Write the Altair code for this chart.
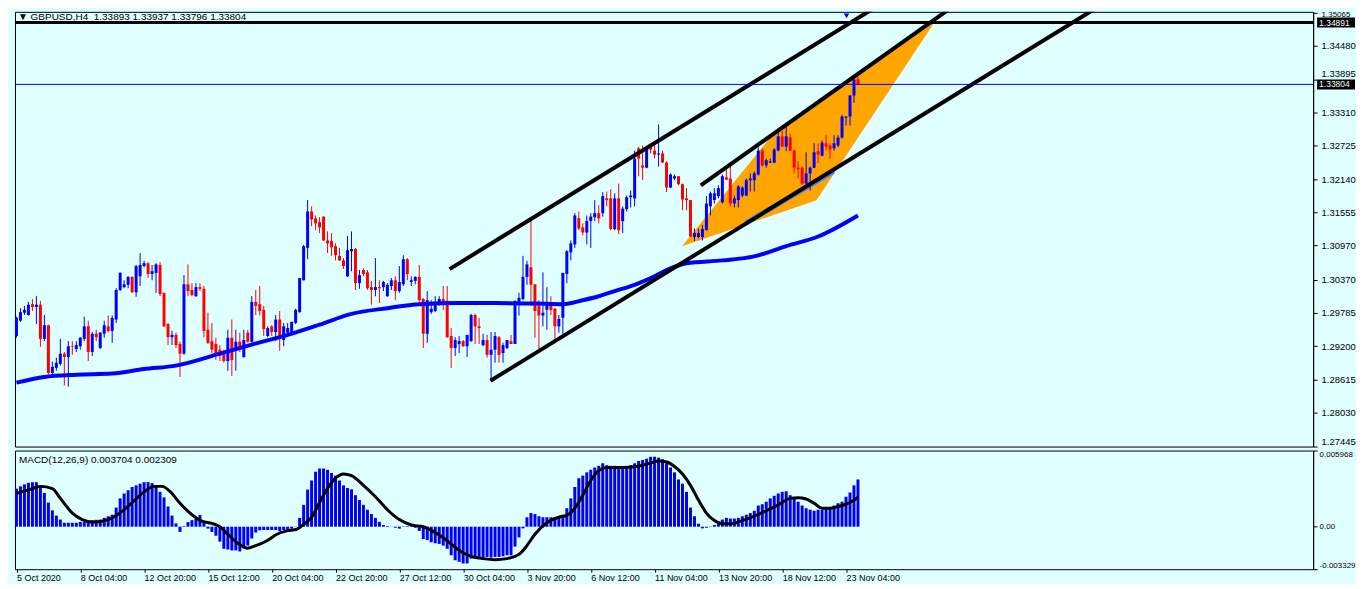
import json
import altair as alt
import pandas as pd

# ---------------- data ----------------
opens = [1.2938,1.2965,1.2979,1.2975,1.2994,1.2989,1.2993,1.2933,1.2957,1.2873,1.2882,1.2889,1.2907,1.2901,1.2920,1.2915,1.2920,1.2933,1.2955,1.2910,
         1.2942,1.2917,1.2942,1.2955,1.2947,1.2967,1.3019,1.3024,1.3028,1.3042,1.3015,1.3043,1.3061,1.3066,1.3047,1.3049,1.3063,1.3014,1.2959,1.2936,
         1.2940,1.2924,1.2907,1.3029,1.3019,1.3008,1.3024,1.3021,1.2949,1.2929,1.2924,1.2914,1.2908,1.2894,1.2935,1.2912,1.2928,1.2901,1.2944,1.2928,
         1.2998,1.2994,1.2984,1.2938,1.2955,1.2945,1.2967,1.2931,1.2944,1.2944,1.2961,1.2980,1.3036,1.3093,1.3157,1.3145,1.3138,1.3148,1.3106,1.3105,
         1.3096,1.3079,1.3071,1.3043,1.3087,1.3091,1.3031,1.3054,1.3050,1.3024,1.3019,1.3024,1.3024,1.3008,1.3026,1.3036,1.3017,1.3029,1.3073,1.3033,
         1.3035,1.3042,1.3003,1.2942,1.2980,1.2982,1.2993,1.3003,1.3000,1.2938,1.2917,1.2924,1.2929,1.2920,1.2929,1.2975,1.2955,1.2922,1.2931,1.2905,
         1.2914,1.2936,1.2908,1.2917,1.2929,1.2924,1.2996,1.3003,1.3042,1.3059,1.3029,1.2991,1.2974,1.2984,1.2996,1.2986,1.2955,1.2970,1.3047,1.3085,
         1.3099,1.3145,1.3129,1.3120,1.3140,1.3147,1.3154,1.3154,1.3180,1.3180,1.3126,1.3180,1.3140,1.3161,1.3182,1.3180,1.3268,1.3238,1.3234,1.3271,
         1.3264,1.3257,1.3259,1.3243,1.3199,1.3215,1.3219,1.3205,1.3180,1.3177,1.3112,1.3112,1.3112,1.3124,1.3166,1.3177,1.3184,1.3173,1.3217,1.3215,
         1.3171,1.3177,1.3185,1.3185,1.3212,1.3212,1.3222,1.3264,1.3238,1.3243,1.3243,1.3264,1.3289,1.3271,1.3287,1.3264,1.3234,1.3234,1.3206,1.3224,
         1.3234,1.3263,1.3255,1.3277,1.3273,1.3268,1.3273,1.3287,1.3322,1.3324,1.3361,1.33893]
highs = [1.2972,1.2987,1.2991,1.2998,1.3003,1.3008,1.3000,1.2975,1.2958,1.2893,1.2900,1.2933,1.2910,1.2929,1.2929,1.2929,1.2936,1.2972,1.2965,1.2945,
         1.2949,1.2945,1.2965,1.2974,1.2974,1.3022,1.3050,1.3036,1.3043,1.3043,1.3063,1.3084,1.3070,1.3068,1.3063,1.3066,1.3068,1.3014,1.2961,1.2947,
         1.2944,1.2928,1.3045,1.3064,1.3031,1.3031,1.3031,1.3026,1.2979,1.2961,1.2935,1.2922,1.2914,1.2949,1.2967,1.2949,1.2944,1.2949,1.2949,1.3008,
         1.3019,1.3026,1.2991,1.2955,1.2957,1.2975,1.2982,1.2961,1.2961,1.2963,1.2986,1.3040,1.3098,1.3177,1.3166,1.3150,1.3147,1.3148,1.3122,1.3119,
         1.3101,1.3093,1.3075,1.3114,1.3122,1.3093,1.3054,1.3057,1.3054,1.3035,1.3075,1.3036,1.3035,1.3031,1.3040,1.3043,1.3061,1.3080,1.3075,1.3043,
         1.3043,1.3063,1.3005,1.3017,1.3001,1.3008,1.3008,1.3026,1.3026,1.2952,1.2936,1.2938,1.2931,1.2940,1.2977,1.2977,1.2970,1.2942,1.2940,1.2945,
         1.2945,1.2938,1.2926,1.2931,1.2940,1.3000,1.3014,1.3079,1.3070,1.3141,1.3029,1.3001,1.3050,1.3024,1.3008,1.2987,1.2975,1.3049,1.3089,1.3106,
         1.3154,1.3157,1.3136,1.3150,1.3154,1.3177,1.3168,1.3191,1.3192,1.3196,1.3189,1.3206,1.3166,1.3185,1.3194,1.3264,1.3271,1.3273,1.3271,1.3277,
         1.3280,1.3310,1.3264,1.3245,1.3224,1.3222,1.3219,1.3206,1.3198,1.3177,1.3127,1.3127,1.3133,1.3184,1.3192,1.3198,1.3203,1.3222,1.3231,1.3243,
         1.3185,1.3203,1.3201,1.3215,1.3224,1.3227,1.3270,1.3268,1.3250,1.3250,1.3268,1.3298,1.3299,1.3310,1.3294,1.3266,1.3245,1.3236,1.3261,1.3236,
         1.3277,1.3277,1.3282,1.3291,1.3277,1.3291,1.3291,1.3327,1.3324,1.3361,1.3394,1.33937]
lows = [1.2935,1.2963,1.2975,1.2974,1.2982,1.2959,1.2919,1.2929,1.2870,1.2870,1.2877,1.2886,1.2851,1.2849,1.2905,1.2910,1.2914,1.2929,1.2894,1.2903,
        1.2929,1.2915,1.2935,1.2944,1.2926,1.2961,1.3017,1.3022,1.3022,1.3014,1.3007,1.3026,1.3059,1.3040,1.3036,1.3014,1.3008,1.2954,1.2922,1.2922,
        1.2917,1.2866,1.2905,1.3008,1.3008,1.3007,1.3017,1.2936,1.2924,1.2908,1.2896,1.2894,1.2891,1.2877,1.2868,1.2877,1.2910,1.2900,1.2926,1.2926,
        1.2975,1.2974,1.2938,1.2936,1.2938,1.2929,1.2912,1.2920,1.2938,1.2942,1.2959,1.2979,1.3036,1.3073,1.3131,1.3124,1.3119,1.3105,1.3084,1.3079,
        1.3071,1.3070,1.3056,1.3042,1.3052,1.3019,1.3021,1.3043,1.3019,1.2993,1.3008,1.2996,1.3017,1.3007,1.3019,1.3001,1.3014,1.3026,1.3036,1.3026,
        1.3029,1.2996,1.2917,1.2926,1.2977,1.2980,1.2991,1.2984,1.2935,1.2882,1.2903,1.2908,1.2919,1.2901,1.2928,1.2924,1.2924,1.2920,1.2900,1.2859,
        1.2891,1.2891,1.2891,1.2915,1.2924,1.2924,1.2974,1.3001,1.3028,1.2991,1.2935,1.2915,1.2955,1.2949,1.2975,1.2933,1.2944,1.2940,1.3031,1.3071,
        1.3093,1.3124,1.3115,1.3099,1.3093,1.3140,1.3136,1.3148,1.3166,1.3124,1.3124,1.3117,1.3119,1.3157,1.3164,1.3166,1.3219,1.3212,1.3233,1.3259,
        1.3250,1.3236,1.3242,1.3191,1.3198,1.3212,1.3203,1.3159,1.3159,1.3112,1.3105,1.3110,1.3106,1.3124,1.3150,1.3171,1.3180,1.3171,1.3212,1.3166,
        1.3164,1.3164,1.3182,1.3184,1.3192,1.3192,1.3220,1.3236,1.3234,1.3242,1.3242,1.3263,1.3271,1.3263,1.3263,1.3224,1.3215,1.3203,1.3203,1.3194,
        1.3233,1.3242,1.3254,1.3264,1.3250,1.3264,1.3270,1.3285,1.3308,1.3308,1.3348,1.33796]
closes = [1.2970,1.2980,1.2984,1.2993,1.2989,1.2993,1.2933,1.2957,1.2873,1.2884,1.2891,1.2907,1.2901,1.2920,1.2919,1.2922,1.2935,1.2955,1.2910,1.2942,
          1.2936,1.2944,1.2957,1.2947,1.2970,1.3019,1.3049,1.3029,1.3042,1.3015,1.3061,1.3063,1.3066,1.3047,1.3052,1.3064,1.3012,1.2955,1.2936,1.2940,
          1.2922,1.2907,1.3029,1.3017,1.3010,1.3024,1.3021,1.2947,1.2926,1.2914,1.2908,1.2903,1.2894,1.2935,1.2896,1.2928,1.2914,1.2931,1.2928,1.2998,
          1.2991,1.2982,1.2950,1.2952,1.2945,1.2967,1.2935,1.2955,1.2952,1.2963,1.2984,1.3040,1.3096,1.3157,1.3143,1.3136,1.3129,1.3106,1.3101,1.3094,
          1.3080,1.3071,1.3061,1.3089,1.3091,1.3031,1.3045,1.3047,1.3022,1.3019,1.3024,1.3022,1.3033,1.3028,1.3036,1.3017,1.3033,1.3073,1.3047,1.3036,
          1.3042,1.3001,1.2942,1.3001,1.2986,1.2996,1.3003,1.2996,1.2936,1.2917,1.2931,1.2929,1.2920,1.2940,1.2975,1.2955,1.2952,1.2931,1.2905,1.2914,
          1.2938,1.2905,1.2922,1.2931,1.2924,1.3000,1.3005,1.3042,1.3064,1.3028,1.2982,1.2974,1.2979,1.2998,1.2984,1.2955,1.2968,1.3049,1.3087,1.3101,
          1.3150,1.3127,1.3120,1.3140,1.3148,1.3154,1.3145,1.3184,1.3177,1.3126,1.3180,1.3124,1.3162,1.3182,1.3185,1.3250,1.3250,1.3234,1.3268,1.3266,
          1.3257,1.3259,1.3243,1.3199,1.3222,1.3219,1.3205,1.3178,1.3177,1.3113,1.3119,1.3119,1.3126,1.3171,1.3189,1.3189,1.3198,1.3219,1.3213,1.3171,
          1.3180,1.3201,1.3199,1.3212,1.3215,1.3224,1.3264,1.3238,1.3247,1.3245,1.3266,1.3289,1.3271,1.3289,1.3264,1.3234,1.3231,1.3206,1.3224,1.3234,
          1.3261,1.3257,1.3278,1.3271,1.3266,1.3277,1.3287,1.3324,1.3324,1.3361,1.3389,1.33804]

macd_hist = [0.00298,0.00316,0.00332,0.00344,0.00349,0.00349,0.00311,0.00265,0.00189,0.00128,0.00087,0.00056,0.00031,0.00031,0.00031,0.00031,0.00038,0.00038,0.00046,0.00051,
             0.00054,0.00056,0.00069,0.00082,0.00094,0.00150,0.00222,0.00260,0.00286,0.00311,0.00324,0.00337,0.00349,0.00349,0.00342,0.00324,0.00273,0.00230,0.00158,0.00087,
             0.00026,-0.00041,0.00005,0.00036,0.00051,0.00061,0.00092,0.00031,-0.00015,-0.00041,-0.00071,-0.00117,-0.00173,-0.00179,-0.00186,-0.00186,-0.00194,-0.00161,-0.00148,-0.00092,
             -0.00046,-0.00028,-0.00026,-0.00026,-0.00026,-0.00026,-0.00036,-0.00026,-0.00026,-0.00015,0.00002,0.00069,0.00171,0.00291,0.00362,0.00431,0.00456,0.00456,0.00446,0.00421,
             0.00400,0.00362,0.00324,0.00303,0.00293,0.00247,0.00209,0.00171,0.00133,0.00099,0.00069,0.00038,0.00013,0.00005,0.00001,-0.00008,-0.00015,0.00003,0.00005,0.00003,
             -0.00008,-0.00033,-0.00097,-0.00105,-0.00122,-0.00130,-0.00135,-0.00148,-0.00173,-0.00224,-0.00263,-0.00275,-0.00288,-0.00288,-0.00250,-0.00250,-0.00237,-0.00242,-0.00237,-0.00242,
             -0.00237,-0.00237,-0.00232,-0.00224,-0.00224,-0.00156,-0.00084,-0.00013,0.00074,0.00107,0.00099,0.00082,0.00074,0.00074,0.00074,0.00074,0.00082,0.00094,0.00145,0.00222,
             0.00311,0.00380,0.00400,0.00426,0.00446,0.00464,0.00477,0.00497,0.00482,0.00477,0.00477,0.00472,0.00472,0.00472,0.00482,0.00497,0.00515,0.00523,0.00533,0.00548,
             0.00548,0.00541,0.00528,0.00497,0.00464,0.00426,0.00370,0.00337,0.00273,0.00150,0.00082,0.00023,-0.00013,-0.00008,-0.00003,0.00013,0.00031,0.00056,0.00069,0.00064,
             0.00064,0.00069,0.00082,0.00094,0.00107,0.00125,0.00166,0.00176,0.00196,0.00222,0.00242,0.00260,0.00273,0.00278,0.00247,0.00222,0.00196,0.00166,0.00145,0.00133,
             0.00125,0.00133,0.00133,0.00140,0.00145,0.00166,0.00184,0.00196,0.00235,0.00268,0.00324,0.003704]

signal_bar = [0,4,6,9,11,14,16.5,19,21.5,24,26.5,29,32,34.5,36.5,38.6,41,44,46.5,49,50.7,53,55.7,57.8,60,62.8,65.3,67.8,70.3,72,
              74,76,78,80,82,84,87,90,93,96,99,102,105,108,111,114,117,120,123,126,128,130,133,136,138,140,142,144,146,148,
              152,155,158,161,163,165,167,169,171,173,175,177,179,182,185,188,191,194,196,198,200,202,204,206,208,210,211]
signal_val = [0.00260,0.00298,0.00316,0.00298,0.00222,0.00107,0.00056,0.00036,0.00043,0.00069,0.00120,0.00189,0.00273,0.00316,0.00316,0.00273,0.00184,0.00094,0.00043,0.00026,
              0.00005,-0.00059,-0.00135,-0.00168,-0.00148,-0.00110,-0.00059,-0.00033,-0.00020,0.00018,
              0.00075,0.00190,0.00300,0.00380,0.00413,0.00400,0.00324,0.00235,0.00133,0.00056,0.00013,0.00000,-0.00046,-0.00110,-0.00186,-0.00232,-0.00250,-0.00258,-0.00250,-0.00217,
              -0.00148,-0.00059,0.00031,0.00074,0.00089,0.00145,0.00247,0.00362,0.00439,0.00464,
              0.00464,0.00469,0.00490,0.00515,0.00507,0.00472,0.00413,0.00324,0.00209,0.00107,0.00048,0.00023,0.00023,0.00048,0.00082,0.00125,0.00171,0.00222,0.00227,0.00217,
              0.00184,0.00145,0.00145,0.00158,0.00176,0.00209,0.002309]

ma_bar = [0,7,15,24,32,40,51,59,68,76,84,93,101,111,120,130,137,142,146,150,155,160,164,168,177,185,193,201,211]
ma_val = [1.2856,1.2866,1.2870,1.2872,1.2880,1.2886,1.2907,1.2923,1.2940,1.2958,1.2977,1.2987,1.2994,1.2996,1.2996,1.2995,1.2994,1.3001,1.3008,1.3017,
          1.3028,1.3043,1.3057,1.3066,1.3071,1.3078,1.3096,1.3113,1.3150]

# drawn objects (bar index, price)
trend_id = ["A", "A", "B", "B", "C", "C"]
trend_bar = [108.6, 215.0, 118.85, 271.6, 171.6, 233.6]
trend_price = [1.30557, 1.35143, 1.28593, 1.35184, 1.32029, 1.35114]
seg_bar = [182.85, 204.85]
seg_price = [1.31363, 1.32275]
tri_bar = [166.85, 189.85, 200.6, 230.6]
tri_top = [1.30960, 1.32941, 1.33469, 1.34939]
tri_bottom = [1.30960, 1.31509, 1.31766, 1.34939]
hline_price = [1.34891]
bid_price = [1.33804]
box_prices = [1.34891, 1.33804]

price_ticks = [1.35065, 1.34480, 1.33895, 1.33310, 1.32725, 1.32140, 1.31555, 1.30970,
               1.30370, 1.29785, 1.29200, 1.28615, 1.28030, 1.27445]
macd_ticks = [0.005968, 0.0, -0.003329]
macd_tick_labels = ["0.005968", "0.00", "-0.003329"]
x_labels = ["5 Oct 2020", "8 Oct 04:00", "12 Oct 20:00", "15 Oct 12:00", "20 Oct 04:00",
            "22 Oct 20:00", "27 Oct 12:00", "30 Oct 04:00", "3 Nov 20:00", "6 Nov 12:00",
            "11 Nov 04:00", "13 Nov 20:00", "18 Nov 12:00", "23 Nov 04:00"]
x_label_step = 16
title_text = "\u25bc GBPUSD,H4\u00a0 1.33893 1.33937 1.33796 1.33804"
macd_text = "MACD(12,26,9) 0.003704 0.002309"

# ---------------- chart ----------------
FONT = "Liberation Sans"
BG = "#e0ffff"
W = 1302
H_MAIN = 436
H_MACD = 119
LBL = 9.5

n = len(opens)
df = pd.DataFrame({"i": list(range(n)), "open": opens, "high": highs, "low": lows,
                   "close": closes, "macd": macd_hist})
df["dir"] = ["up" if c >= o else "down" for o, c in zip(opens, closes)]

xs = alt.Scale(domain=[-0.375, 325.125], nice=False, zero=False, padding=0)
ys = alt.Scale(domain=[1.274367, 1.350798], nice=False, zero=False, padding=0)
ms = alt.Scale(domain=[-0.003329, 0.005968], nice=False, zero=False, padding=0)
col = alt.Color("dir:N", scale=alt.Scale(domain=["up", "down"], range=["#0000ff", "#ff0000"]), legend=None)


def tick_is(t):
    return f"abs(datum.value - {t}) < 0.000001"


# small label nudges so the axis labels stay clear of the price boxes
label_nudge = {price_ticks[0]: -2.5, price_ticks[2]: -6}
nudge_expr = {"condition": [{"test": tick_is(t), "value": v} for t, v in label_nudge.items()],
              "value": 0}
size_expr = {"condition": [{"test": tick_is(price_ticks[0]), "value": 8}], "value": LBL}

price_axis = alt.Axis(orient="right", values=price_ticks, format=".5f", title=None, grid=False,
                      tickSize=4, labelPadding=4, labelFlush=3, labelOverlap=False,
                      labelOffset=nudge_expr, labelFontSize=size_expr,
                      domain=True, ticks=True, labels=True,
                      domainColor="black", tickColor="black", labelColor="black",
                      labelFont=FONT)


def PX(field):
    return alt.X(field, scale=xs, axis=None)


def PY(field):
    return alt.Y(field, scale=ys, axis=price_axis)


orange = alt.Chart(pd.DataFrame({"b": tri_bar, "t": tri_top, "u": tri_bottom})).mark_area(
    color="#ffa500", opacity=1, clip=True).encode(x=PX("b:Q"), y=PY("t:Q"), y2="u:Q")

seg = alt.Chart(pd.DataFrame({"b": seg_bar, "p": seg_price})).mark_line(
    color="#4a7dff", strokeWidth=5).encode(x=PX("b:Q"), y=PY("p:Q"))

base = alt.Chart(df)
wicks = base.mark_rule(strokeWidth=1).encode(x=PX("i:Q"), y=PY("low:Q"), y2="high:Q", color=col)
bodies = base.mark_bar(size=3).encode(x=PX("i:Q"), y=PY("open:Q"), y2="close:Q", color=col)

ma = alt.Chart(pd.DataFrame({"b": ma_bar, "p": ma_val})).mark_line(
    color="#0000ff", strokeWidth=4, interpolate="monotone").encode(x=PX("b:Q"), y=PY("p:Q"))

trends = alt.Chart(pd.DataFrame({"id": trend_id, "b": trend_bar, "p": trend_price})).mark_line(
    color="black", strokeWidth=4, clip=True).encode(x=PX("b:Q"), y=PY("p:Q"), detail="id:N")

hline = alt.Chart(pd.DataFrame({"p": hline_price})).mark_rule(color="black", strokeWidth=3).encode(
    y=PY("p:Q"))
bid = alt.Chart(pd.DataFrame({"p": bid_price})).mark_rule(color="#0000ff", strokeWidth=1).encode(
    y=PY("p:Q"))

box_df = pd.DataFrame({"p": box_prices, "lab": [f"{p:.5f}" for p in box_prices]})
boxes = alt.Chart(box_df).transform_calculate(
    top="datum.p + 0.00088", bot="datum.p - 0.00088").mark_rect(color="black").encode(
    x=alt.value(W + 4), x2=alt.value(W + 42), y=PY("top:Q"), y2="bot:Q")
box_text = alt.Chart(box_df).mark_text(align="left", baseline="middle", color="white",
                                       font=FONT, fontSize=8.5).encode(
    x=alt.value(W + 6), y=PY("p:Q"), text="lab:N")

title = alt.Chart(pd.DataFrame({"t": [title_text]})).mark_text(
    align="left", baseline="middle", font=FONT, fontSize=10, color="black").encode(
    x=alt.value(3), y=alt.value(5), text="t:N")

shift_mark = alt.Chart(pd.DataFrame({"s": [1]})).mark_point(
    shape="triangle-down", filled=True, color="#0000ff", size=30, opacity=1).encode(
    x=alt.value(834), y=alt.value(4))

main = alt.layer(orange, seg, wicks, bodies, ma, trends, hline, bid, boxes, box_text,
                 title, shift_mark).properties(width=W, height=H_MAIN)

# MACD panel
lab_expr = "'" + macd_tick_labels[-1] + "'"
for v, lab in reversed(list(zip(macd_ticks[:-1], macd_tick_labels[:-1]))):
    lab_expr = f"abs(datum.value - ({v})) < 1e-7 ? '{lab}' : " + lab_expr
macd_axis = alt.Axis(orient="right", values=macd_ticks, labelExpr=lab_expr, title=None, grid=False,
                     tickSize=4, labelPadding=2, labelFlush=3, labelOverlap=False,
                     domain=True, ticks=True, labels=True,
                     domainColor="black", tickColor="black", labelColor="black",
                     labelFont=FONT, labelFontSize=8)
x_axis = alt.Axis(orient="bottom", values=[k * x_label_step for k in range(len(x_labels))],
                  labelExpr=json.dumps(x_labels) + f"[round(datum.value / {x_label_step})]",
                  title=None, grid=False, domain=False, ticks=True, labels=True,
                  tickSize=3, tickColor="black",
                  labelAlign="left", labelPadding=1, labelOverlap=False, labelFlush=False,
                  labelColor="black", labelFont=FONT, labelFontSize=9)


def MX(field):
    return alt.X(field, scale=xs, axis=x_axis)


def MY(field):
    return alt.Y(field, scale=ms, axis=macd_axis)


hist = base.transform_calculate(zero="0").mark_bar(size=3, color="#0000ff").encode(
    x=MX("i:Q"), y=MY("macd:Q"), y2="zero:Q")
signal = alt.Chart(pd.DataFrame({"b": signal_bar, "v": signal_val})).mark_line(
    color="black", strokeWidth=3, interpolate="monotone").encode(x=MX("b:Q"), y=MY("v:Q"))
macd_title = alt.Chart(pd.DataFrame({"t": [macd_text]})).mark_text(
    align="left", baseline="middle", font=FONT, fontSize=10, color="black").encode(
    x=alt.value(4), y=alt.value(9), text="t:N")

macd = alt.layer(hist, signal, macd_title).properties(width=W, height=H_MACD)

chart = alt.vconcat(main, macd, spacing=2).properties(
    padding=0, background=BG).configure_view(stroke="black", strokeWidth=1)

chart.save("out.html", embed_options={"renderer": "svg", "actions": False})
